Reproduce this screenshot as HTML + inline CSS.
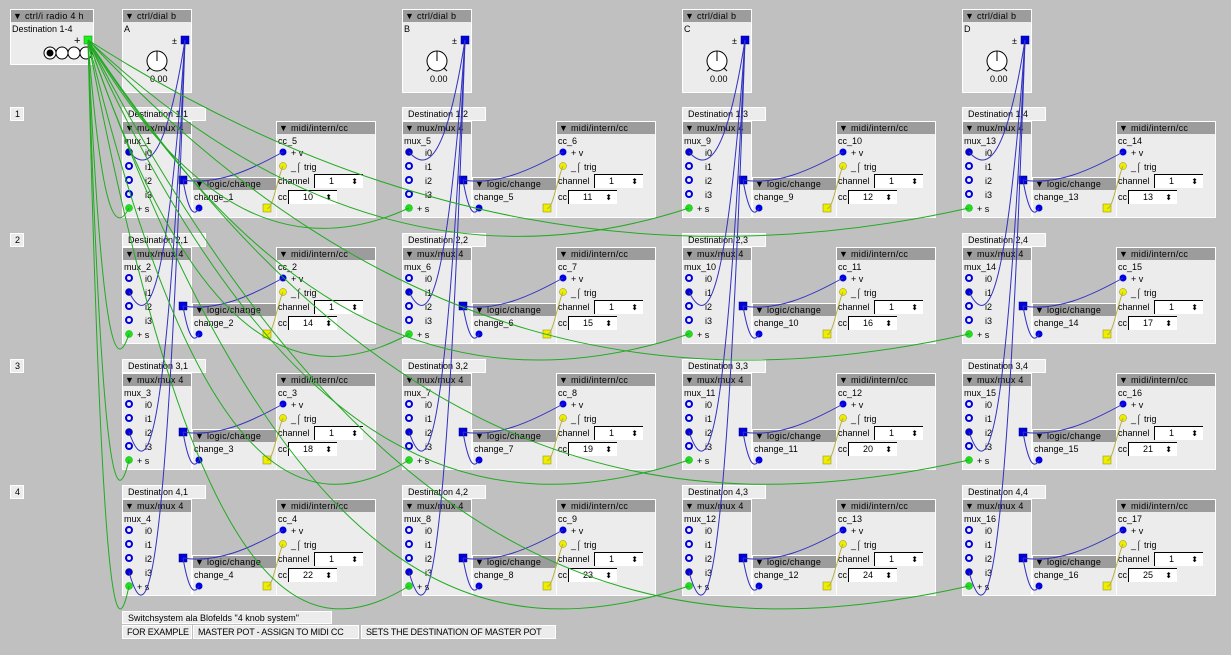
<!DOCTYPE html>
<html><head><meta charset="utf-8"><style>
body{margin:0;width:1231px;height:655px;background:#c0c0c0;position:relative;overflow:hidden;font-family:"Liberation Sans","DejaVu Sans",sans-serif;font-size:9px;color:#000}
.b{position:absolute;background:#ececec;border:1px solid #fff;box-sizing:border-box}
.h{position:absolute;left:0;top:0;right:0;height:12px;background:#9c9c9c;line-height:12px;padding-left:2px;white-space:nowrap;letter-spacing:0.3px}
.t{position:absolute;white-space:nowrap;line-height:12px}
.lbl{position:absolute;background:#ececec;border:1px solid #fff;box-sizing:border-box;height:14px;line-height:12px;padding-left:5px;white-space:nowrap;overflow:hidden}
.cell{position:absolute;width:260px;height:115px}
.nb{position:absolute;background:#fff;border-left:1px solid #000;border-top:1px solid #000;height:14px;box-sizing:border-box;width:49px;line-height:13px;padding-left:14px}
.nb span{position:absolute;right:5px;top:0;font-size:8px}
.dl{left:0;top:1px;width:84px}
.m{left:0;top:15px;width:70px;height:97px}
.c{left:70px;top:71px;width:85px;height:41px}
.d{left:154px;top:15px;width:100px;height:97px}
.n1{left:1px;top:13px}
.i0{left:22px;top:25px}.i1{left:22px;top:39px}.i2{left:22px;top:53px}.i3{left:22px;top:67px}.is{left:14px;top:81px}
.v{left:14px;top:25px}.tr{left:14px;top:39px}.ch{left:1px;top:53px}.cl{left:1px;top:69px}
.n1b{left:37px;top:52px}.n2b{left:11px;top:68px}
svg{position:absolute;left:0;top:0}
</style></head><body>
<div class="b" style="left:10px;top:9px;width:84px;height:56px"><div class="h">▼ ctrl/i radio 4 h</div><div class="t" style="left:1px;top:13px">Destination 1-4</div><div class="t" style="left:63px;top:25px;font-size:11px">+</div></div>
<div class="b" style="left:122px;top:9px;width:70px;height:84px"><div class="h">▼ ctrl/dial b</div><div class="t" style="left:1px;top:13px">A</div><div class="t" style="left:49px;top:25px">±</div><div class="t" style="left:27px;top:63px">0.00</div></div>
<div class="b" style="left:402px;top:9px;width:70px;height:84px"><div class="h">▼ ctrl/dial b</div><div class="t" style="left:1px;top:13px">B</div><div class="t" style="left:49px;top:25px">±</div><div class="t" style="left:27px;top:63px">0.00</div></div>
<div class="b" style="left:682px;top:9px;width:70px;height:84px"><div class="h">▼ ctrl/dial b</div><div class="t" style="left:1px;top:13px">C</div><div class="t" style="left:49px;top:25px">±</div><div class="t" style="left:27px;top:63px">0.00</div></div>
<div class="b" style="left:962px;top:9px;width:70px;height:84px"><div class="h">▼ ctrl/dial b</div><div class="t" style="left:1px;top:13px">D</div><div class="t" style="left:49px;top:25px">±</div><div class="t" style="left:27px;top:63px">0.00</div></div>
<div class="lbl" style="left:10px;top:107px;width:14px;padding-left:4px">1</div>
<div class="lbl" style="left:10px;top:233px;width:14px;padding-left:4px">2</div>
<div class="lbl" style="left:10px;top:359px;width:14px;padding-left:4px">3</div>
<div class="lbl" style="left:10px;top:485px;width:14px;padding-left:4px">4</div>

<div class="cell" style="left:122px;top:106px"><div class="lbl dl">Destination 1,1</div><div class="b m"><div class="h">▼ mux/mux 4</div><div class="t n1">mux_1</div><div class="t i0">i0</div><div class="t i1">i1</div><div class="t i2">i2</div><div class="t i3">i3</div><div class="t is">+ s</div></div><div class="b c"><div class="h">▼ logic/change</div><div class="t n1">change_1</div></div><div class="b d"><div class="h">▼ midi/intern/cc</div><div class="t n1">cc_5</div><div class="t v">+ v</div><div class="t tr">_⌠ trig</div><div class="t ch">channel</div><div class="nb n1b">1<span>⬍</span></div><div class="t cl">cc</div><div class="nb n2b">10<span>⬍</span></div></div></div>
<div class="cell" style="left:122px;top:232px"><div class="lbl dl">Destination 2,1</div><div class="b m"><div class="h">▼ mux/mux 4</div><div class="t n1">mux_2</div><div class="t i0">i0</div><div class="t i1">i1</div><div class="t i2">i2</div><div class="t i3">i3</div><div class="t is">+ s</div></div><div class="b c"><div class="h">▼ logic/change</div><div class="t n1">change_2</div></div><div class="b d"><div class="h">▼ midi/intern/cc</div><div class="t n1">cc_2</div><div class="t v">+ v</div><div class="t tr">_⌠ trig</div><div class="t ch">channel</div><div class="nb n1b">1<span>⬍</span></div><div class="t cl">cc</div><div class="nb n2b">14<span>⬍</span></div></div></div>
<div class="cell" style="left:122px;top:358px"><div class="lbl dl">Destination 3,1</div><div class="b m"><div class="h">▼ mux/mux 4</div><div class="t n1">mux_3</div><div class="t i0">i0</div><div class="t i1">i1</div><div class="t i2">i2</div><div class="t i3">i3</div><div class="t is">+ s</div></div><div class="b c"><div class="h">▼ logic/change</div><div class="t n1">change_3</div></div><div class="b d"><div class="h">▼ midi/intern/cc</div><div class="t n1">cc_3</div><div class="t v">+ v</div><div class="t tr">_⌠ trig</div><div class="t ch">channel</div><div class="nb n1b">1<span>⬍</span></div><div class="t cl">cc</div><div class="nb n2b">18<span>⬍</span></div></div></div>
<div class="cell" style="left:122px;top:484px"><div class="lbl dl">Destination 4,1</div><div class="b m"><div class="h">▼ mux/mux 4</div><div class="t n1">mux_4</div><div class="t i0">i0</div><div class="t i1">i1</div><div class="t i2">i2</div><div class="t i3">i3</div><div class="t is">+ s</div></div><div class="b c"><div class="h">▼ logic/change</div><div class="t n1">change_4</div></div><div class="b d"><div class="h">▼ midi/intern/cc</div><div class="t n1">cc_4</div><div class="t v">+ v</div><div class="t tr">_⌠ trig</div><div class="t ch">channel</div><div class="nb n1b">1<span>⬍</span></div><div class="t cl">cc</div><div class="nb n2b">22<span>⬍</span></div></div></div>

<div class="cell" style="left:402px;top:106px"><div class="lbl dl">Destination 1,2</div><div class="b m"><div class="h">▼ mux/mux 4</div><div class="t n1">mux_5</div><div class="t i0">i0</div><div class="t i1">i1</div><div class="t i2">i2</div><div class="t i3">i3</div><div class="t is">+ s</div></div><div class="b c"><div class="h">▼ logic/change</div><div class="t n1">change_5</div></div><div class="b d"><div class="h">▼ midi/intern/cc</div><div class="t n1">cc_6</div><div class="t v">+ v</div><div class="t tr">_⌠ trig</div><div class="t ch">channel</div><div class="nb n1b">1<span>⬍</span></div><div class="t cl">cc</div><div class="nb n2b">11<span>⬍</span></div></div></div>
<div class="cell" style="left:402px;top:232px"><div class="lbl dl">Destination 2,2</div><div class="b m"><div class="h">▼ mux/mux 4</div><div class="t n1">mux_6</div><div class="t i0">i0</div><div class="t i1">i1</div><div class="t i2">i2</div><div class="t i3">i3</div><div class="t is">+ s</div></div><div class="b c"><div class="h">▼ logic/change</div><div class="t n1">change_6</div></div><div class="b d"><div class="h">▼ midi/intern/cc</div><div class="t n1">cc_7</div><div class="t v">+ v</div><div class="t tr">_⌠ trig</div><div class="t ch">channel</div><div class="nb n1b">1<span>⬍</span></div><div class="t cl">cc</div><div class="nb n2b">15<span>⬍</span></div></div></div>
<div class="cell" style="left:402px;top:358px"><div class="lbl dl">Destination 3,2</div><div class="b m"><div class="h">▼ mux/mux 4</div><div class="t n1">mux_7</div><div class="t i0">i0</div><div class="t i1">i1</div><div class="t i2">i2</div><div class="t i3">i3</div><div class="t is">+ s</div></div><div class="b c"><div class="h">▼ logic/change</div><div class="t n1">change_7</div></div><div class="b d"><div class="h">▼ midi/intern/cc</div><div class="t n1">cc_8</div><div class="t v">+ v</div><div class="t tr">_⌠ trig</div><div class="t ch">channel</div><div class="nb n1b">1<span>⬍</span></div><div class="t cl">cc</div><div class="nb n2b">19<span>⬍</span></div></div></div>
<div class="cell" style="left:402px;top:484px"><div class="lbl dl">Destination 4,2</div><div class="b m"><div class="h">▼ mux/mux 4</div><div class="t n1">mux_8</div><div class="t i0">i0</div><div class="t i1">i1</div><div class="t i2">i2</div><div class="t i3">i3</div><div class="t is">+ s</div></div><div class="b c"><div class="h">▼ logic/change</div><div class="t n1">change_8</div></div><div class="b d"><div class="h">▼ midi/intern/cc</div><div class="t n1">cc_9</div><div class="t v">+ v</div><div class="t tr">_⌠ trig</div><div class="t ch">channel</div><div class="nb n1b">1<span>⬍</span></div><div class="t cl">cc</div><div class="nb n2b">23<span>⬍</span></div></div></div>

<div class="cell" style="left:682px;top:106px"><div class="lbl dl">Destination 1,3</div><div class="b m"><div class="h">▼ mux/mux 4</div><div class="t n1">mux_9</div><div class="t i0">i0</div><div class="t i1">i1</div><div class="t i2">i2</div><div class="t i3">i3</div><div class="t is">+ s</div></div><div class="b c"><div class="h">▼ logic/change</div><div class="t n1">change_9</div></div><div class="b d"><div class="h">▼ midi/intern/cc</div><div class="t n1">cc_10</div><div class="t v">+ v</div><div class="t tr">_⌠ trig</div><div class="t ch">channel</div><div class="nb n1b">1<span>⬍</span></div><div class="t cl">cc</div><div class="nb n2b">12<span>⬍</span></div></div></div>
<div class="cell" style="left:682px;top:232px"><div class="lbl dl">Destination 2,3</div><div class="b m"><div class="h">▼ mux/mux 4</div><div class="t n1">mux_10</div><div class="t i0">i0</div><div class="t i1">i1</div><div class="t i2">i2</div><div class="t i3">i3</div><div class="t is">+ s</div></div><div class="b c"><div class="h">▼ logic/change</div><div class="t n1">change_10</div></div><div class="b d"><div class="h">▼ midi/intern/cc</div><div class="t n1">cc_11</div><div class="t v">+ v</div><div class="t tr">_⌠ trig</div><div class="t ch">channel</div><div class="nb n1b">1<span>⬍</span></div><div class="t cl">cc</div><div class="nb n2b">16<span>⬍</span></div></div></div>
<div class="cell" style="left:682px;top:358px"><div class="lbl dl">Destination 3,3</div><div class="b m"><div class="h">▼ mux/mux 4</div><div class="t n1">mux_11</div><div class="t i0">i0</div><div class="t i1">i1</div><div class="t i2">i2</div><div class="t i3">i3</div><div class="t is">+ s</div></div><div class="b c"><div class="h">▼ logic/change</div><div class="t n1">change_11</div></div><div class="b d"><div class="h">▼ midi/intern/cc</div><div class="t n1">cc_12</div><div class="t v">+ v</div><div class="t tr">_⌠ trig</div><div class="t ch">channel</div><div class="nb n1b">1<span>⬍</span></div><div class="t cl">cc</div><div class="nb n2b">20<span>⬍</span></div></div></div>
<div class="cell" style="left:682px;top:484px"><div class="lbl dl">Destination 4,3</div><div class="b m"><div class="h">▼ mux/mux 4</div><div class="t n1">mux_12</div><div class="t i0">i0</div><div class="t i1">i1</div><div class="t i2">i2</div><div class="t i3">i3</div><div class="t is">+ s</div></div><div class="b c"><div class="h">▼ logic/change</div><div class="t n1">change_12</div></div><div class="b d"><div class="h">▼ midi/intern/cc</div><div class="t n1">cc_13</div><div class="t v">+ v</div><div class="t tr">_⌠ trig</div><div class="t ch">channel</div><div class="nb n1b">1<span>⬍</span></div><div class="t cl">cc</div><div class="nb n2b">24<span>⬍</span></div></div></div>

<div class="cell" style="left:962px;top:106px"><div class="lbl dl">Destination 1,4</div><div class="b m"><div class="h">▼ mux/mux 4</div><div class="t n1">mux_13</div><div class="t i0">i0</div><div class="t i1">i1</div><div class="t i2">i2</div><div class="t i3">i3</div><div class="t is">+ s</div></div><div class="b c"><div class="h">▼ logic/change</div><div class="t n1">change_13</div></div><div class="b d"><div class="h">▼ midi/intern/cc</div><div class="t n1">cc_14</div><div class="t v">+ v</div><div class="t tr">_⌠ trig</div><div class="t ch">channel</div><div class="nb n1b">1<span>⬍</span></div><div class="t cl">cc</div><div class="nb n2b">13<span>⬍</span></div></div></div>
<div class="cell" style="left:962px;top:232px"><div class="lbl dl">Destination 2,4</div><div class="b m"><div class="h">▼ mux/mux 4</div><div class="t n1">mux_14</div><div class="t i0">i0</div><div class="t i1">i1</div><div class="t i2">i2</div><div class="t i3">i3</div><div class="t is">+ s</div></div><div class="b c"><div class="h">▼ logic/change</div><div class="t n1">change_14</div></div><div class="b d"><div class="h">▼ midi/intern/cc</div><div class="t n1">cc_15</div><div class="t v">+ v</div><div class="t tr">_⌠ trig</div><div class="t ch">channel</div><div class="nb n1b">1<span>⬍</span></div><div class="t cl">cc</div><div class="nb n2b">17<span>⬍</span></div></div></div>
<div class="cell" style="left:962px;top:358px"><div class="lbl dl">Destination 3,4</div><div class="b m"><div class="h">▼ mux/mux 4</div><div class="t n1">mux_15</div><div class="t i0">i0</div><div class="t i1">i1</div><div class="t i2">i2</div><div class="t i3">i3</div><div class="t is">+ s</div></div><div class="b c"><div class="h">▼ logic/change</div><div class="t n1">change_15</div></div><div class="b d"><div class="h">▼ midi/intern/cc</div><div class="t n1">cc_16</div><div class="t v">+ v</div><div class="t tr">_⌠ trig</div><div class="t ch">channel</div><div class="nb n1b">1<span>⬍</span></div><div class="t cl">cc</div><div class="nb n2b">21<span>⬍</span></div></div></div>
<div class="cell" style="left:962px;top:484px"><div class="lbl dl">Destination 4,4</div><div class="b m"><div class="h">▼ mux/mux 4</div><div class="t n1">mux_16</div><div class="t i0">i0</div><div class="t i1">i1</div><div class="t i2">i2</div><div class="t i3">i3</div><div class="t is">+ s</div></div><div class="b c"><div class="h">▼ logic/change</div><div class="t n1">change_16</div></div><div class="b d"><div class="h">▼ midi/intern/cc</div><div class="t n1">cc_17</div><div class="t v">+ v</div><div class="t tr">_⌠ trig</div><div class="t ch">channel</div><div class="nb n1b">1<span>⬍</span></div><div class="t cl">cc</div><div class="nb n2b">25<span>⬍</span></div></div></div>

<div class="lbl" style="left:122px;top:611px;width:210px;height:13px">Switchsystem ala Blofelds "4 knob system"</div>
<div class="lbl" style="left:122px;top:625px;width:70px;padding-left:4px;letter-spacing:-0.2px">FOR EXAMPLE</div>
<div class="lbl" style="left:193px;top:625px;width:166px;padding-left:4px;letter-spacing:-0.2px">MASTER POT - ASSIGN TO MIDI CC</div>
<div class="lbl" style="left:361px;top:625px;width:195px;padding-left:4px;letter-spacing:-0.2px">SETS THE DESTINATION OF MASTER POT</div>
<svg id="s" width="1231" height="655" xmlns="http://www.w3.org/2000/svg"></svg>
<script>
var s=document.getElementById('s'),NS='http://www.w3.org/2000/svg';
function el(t,a){var e=document.createElementNS(NS,t);for(var k in a)e.setAttribute(k,a[k]);s.appendChild(e);return e;}
function wire(x1,y1,x2,y2,col){var dx=x2-x1,dy=y2-y1,d=Math.sqrt(dx*dx+dy*dy),sg=Math.min(d*0.12,60)+6;
el('path',{d:'M'+x1+' '+y1+' C'+(x1+dx/3)+' '+(Math.max(y1,y2)+sg*0.3)+' '+(x2-dx/3)+' '+(y2+sg)+' '+x2+' '+y2,fill:'none',stroke:col,'stroke-width':1});}
// static ports
// radio circles
for(var i=0;i<4;i++){el('circle',{cx:50+i*12,cy:53,r:6,fill:'#fff',stroke:'#000'});}
el('circle',{cx:50,cy:53,r:3.5,fill:'#000'});
// dials
for(var c=0;c<4;c++){var x=122+280*c;
el('circle',{cx:x+35,cy:61,r:10,fill:'#fff',stroke:'#000'});
el('line',{x1:x+35,y1:51,x2:x+35,y2:61,stroke:'#000'});
el('line',{x1:x+28,y1:68,x2:x+25,y2:71,stroke:'#000'});el('line',{x1:x+42,y1:68,x2:x+45,y2:71,stroke:'#000'});
}
function ports(){
for(var c=0;c<4;c++)for(var r=0;r<4;r++){var x=122+280*c,y=106+126*r;
for(var k=0;k<4;k++){ if(k==r) el('circle',{cx:x+7,cy:y+46+14*k,r:3.5,fill:'#0000e0',stroke:'#000040','stroke-width':0.5});
 else el('circle',{cx:x+7,cy:y+46+14*k,r:3,fill:'none',stroke:'#0000e0','stroke-width':2});}
el('circle',{cx:x+7,cy:y+102,r:3.5,fill:'#22dd22',stroke:'#0a0','stroke-width':0.5});
el('rect',{x:x+57,y:y+70,width:8,height:8,fill:'#0000e0',stroke:'#000060','stroke-width':0.5});
el('circle',{cx:x+77,cy:y+102,r:3.5,fill:'#0000e0'});
el('rect',{x:x+141,y:y+98,width:8,height:8,fill:'#eeee00',stroke:'#888800','stroke-width':0.5});
el('circle',{cx:x+161,cy:y+46,r:3.5,fill:'#0000e0'});
el('circle',{cx:x+161,cy:y+60,r:3.5,fill:'#eeee00',stroke:'#888800','stroke-width':0.5});
}
el('rect',{x:84,y:36,width:8,height:8,fill:'#22ee22',stroke:'#080','stroke-width':0.5});
for(var c=0;c<4;c++)el('rect',{x:181+280*c,y:36,width:8,height:8,fill:'#0000e0',stroke:'#000060','stroke-width':0.5});
}
ports();
// wires
for(var c=0;c<4;c++)for(var r=0;r<4;r++){var x=122+280*c,y=106+126*r;
wire(x+63,40,x+7,y+46+14*r,'#3030c0');
wire(x+61,y+74,x+161,y+46,'#3030c0');
wire(x+61,y+74,x+77,y+102,'#3030c0');
wire(x+145,y+102,x+161,y+60,'#b8b040');
wire(88,40,x+7,y+102,'#22aa22');
}
</script>
</body></html>
